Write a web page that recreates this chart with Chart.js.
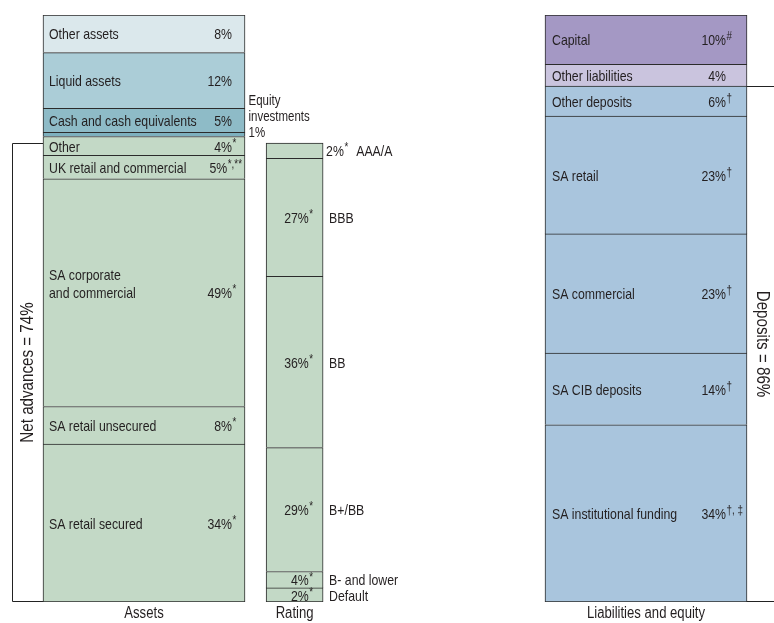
<!DOCTYPE html>
<html>
<head>
<meta charset="utf-8">
<script src="https://cdn.jsdelivr.net/npm/chart.js@4.4.1/dist/chart.umd.min.js"></script>
<style>
  html, body { margin: 0; padding: 0; background: #ffffff; }
  #wrap { width: 774px; height: 623px; position: relative; }
</style>
</head>
<body>
<div id="wrap"><canvas id="chart" width="774" height="623"></canvas></div>
<script>
// ---------------- DATA ----------------
const columns = ['Assets', 'Rating', 'Liabilities and equity'];

// Assets column, top to bottom
const assetNames = ['Other assets', 'Liquid assets', 'Cash and cash equivalents', 'Equity\ninvestments',
  'Other', 'UK retail and commercial', 'SA corporate\nand commercial', 'SA retail unsecured', 'SA retail secured'];
const assetPercents = ['8%', '12%', '5%', '1%', '4%', '5%', '49%', '8%', '34%'];
const assetNotes = ['', '', '', '', '*', '*,**', '*', '*', '*'];
// drawn segment heights, % of the column height
const assetShares = [6.4, 9.5, 4.1, 0.7, 3.2, 4.0, 38.8, 6.4, 26.9];

// Rating column (of net advances), top to bottom
const ratingNames = ['AAA/A', 'BBB', 'BB', 'B+/BB', 'B- and lower', 'Default'];
const ratingPercents = ['2%', '27%', '36%', '29%', '4%', '2%'];
const ratingNotes = ['*', '*', '*', '*', '*', '*'];
const ratingShares = [2.6, 20.1, 29.2, 21.1, 2.8, 2.4];

// Liabilities and equity column, top to bottom
const liabNames = ['Capital', 'Other liabilities', 'Other deposits', 'SA retail', 'SA commercial',
  'SA CIB deposits', 'SA institutional funding'];
const liabPercents = ['10%', '4%', '6%', '23%', '23%', '14%', '34%'];
const liabNotes = ['#', '', '\u2020', '\u2020', '\u2020', '\u2020', '\u2020, \u2021'];
const liabShares = [8.4, 3.7, 5.1, 20.1, 20.3, 12.2, 30.2];

const bracketLabels = ['Net advances = 74%', 'Deposits = 86%'];

// ---------------- STYLE / LAYOUT ----------------
const FAMILY = "'Liberation Sans', Arial, sans-serif";
const NARROW = 0.82;               // horizontal squeeze to mimic a condensed face
const TEXT = '#231f20';
const LINE = '#2b2b2b';
const LBL = 15, SUP = 12;
const assetColors = ['#dbe8ec', '#abcdd7', '#8ebbc7', '#7db0be', '#c3d9c6', '#c3d9c6', '#c3d9c6', '#c3d9c6', '#c3d9c6'];
const ratingColors = ['#c3d9c6', '#c3d9c6', '#c3d9c6', '#c3d9c6', '#c3d9c6', '#c3d9c6'];
const liabColors = ['#a498c4', '#cac4de', '#a9c5dd', '#a9c5dd', '#a9c5dd', '#a9c5dd', '#a9c5dd'];
const colPos = [0, 3, 10];          // column centres on the x scale
const colWidth = [202, 57, 202];    // bar thickness in px

function tw(ctx, text, size) {
  ctx.font = size + 'px ' + FAMILY;
  return ctx.measureText(text).width * NARROW;
}
function txt(ctx, text, x, y, size, align, rot) {
  ctx.save();
  ctx.translate(x, y);
  if (rot) ctx.rotate(rot);
  ctx.scale(NARROW, 1);
  ctx.font = size + 'px ' + FAMILY;
  ctx.textAlign = align || 'left';
  ctx.textBaseline = 'middle';
  ctx.fillStyle = TEXT;
  ctx.fillText(text, 0, 0);
  ctx.restore();
}

function makeSets(col, kind, names, pcts, notes, shares, colors) {
  const sets = [];
  for (let i = shares.length - 1; i >= 0; i--) {
    sets.push({
      label: names[i].replace('\n', ' '),
      data: [{ x: colPos[col], y: shares[i] }],
      backgroundColor: colors[i],
      borderColor: LINE,
      borderWidth: 1,
      borderSkipped: i === shares.length - 1 ? false : 'start',
      barThickness: colWidth[col],
      grouped: false,
      seg: { kind, i, name: names[i], pct: pcts[i], note: notes[i] }
    });
  }
  return sets;
}

const datasets = [].concat(
  makeSets(0, 'asset', assetNames, assetPercents, assetNotes, assetShares, assetColors),
  makeSets(1, 'rating', ratingNames, ratingPercents, ratingNotes, ratingShares, ratingColors),
  makeSets(2, 'liab', liabNames, liabPercents, liabNotes, liabShares, liabColors)
);

function drawPct(ctx, pct, note, endX, y) {
  txt(ctx, pct, endX, y, LBL, 'right');
  if (note) txt(ctx, note, endX + 0.5, y - 4, SUP, 'left');
}

const labelPlugin = {
  id: 'segLabels',
  afterDatasetsDraw(chart) {
    const ctx = chart.ctx;
    const yS = chart.scales.y, xS = chart.scales.x;
    ctx.save();
    const boxes = {};
    chart.data.datasets.forEach((ds, di) => {
      const el = chart.getDatasetMeta(di).data[0];
      const p = el.getProps(['x', 'y', 'base', 'width'], true);
      const left = p.x - p.width / 2, right = p.x + p.width / 2;
      const top = Math.min(p.y, p.base), bot = Math.max(p.y, p.base);
      const cy = (top + bot) / 2 + 1.5;
      const m = ds.seg;
      boxes[m.kind] = { left, right };
      if (m.kind === 'asset' || m.kind === 'liab') {
        const lines = m.name.split('\n');
        if (bot - top < 8) {
          // thin strip: label sits outside, to the right
          const all = lines.concat([m.pct]);
          all.forEach((t, k) => txt(ctx, t, right + 3.5, cy - 3 - (all.length - 1 - k) * 16, 14, 'left'));
          return;
        }
        const nx = left + (m.kind === 'asset' ? 6 : 7);
        lines.forEach((t, k) => txt(ctx, t, nx, cy - (lines.length - 1 - k) * 18, LBL, 'left'));
        const sw = m.note ? tw(ctx, m.note, SUP) + 0.5 : 0;
        let end = right - (m.kind === 'asset' ? 13 : 21);
        if (end + sw > right - 3) end = right - 3 - sw;
        drawPct(ctx, m.pct, m.note, end, cy);
      } else {
        const sw = m.note ? tw(ctx, m.note, SUP) + 0.5 : 0;
        if (m.i === 0) {
          // top rating band is labelled outside the bar
          const sx = right + 3;
          const w = tw(ctx, m.pct, LBL);
          txt(ctx, m.pct, sx, cy, LBL, 'left');
          txt(ctx, m.note, sx + w + 0.5, cy - 4, SUP, 'left');
          txt(ctx, m.name, sx + w + sw + 8, cy, LBL, 'left');
        } else {
          drawPct(ctx, m.pct, m.note, right - 10 - sw, cy);
          txt(ctx, m.name, right + 6, cy, LBL, 'left');
        }
      }
    });

    // column titles under the bars
    columns.forEach((c, i) => txt(ctx, c, xS.getPixelForValue(colPos[i]), 614, 16, 'center'));

    // brackets
    const ratingTotal = ratingShares.reduce((a, b) => a + b, 0);
    const depositsTotal = liabShares.slice(2).reduce((a, b) => a + b, 0);
    const y0 = yS.getPixelForValue(0);
    ctx.strokeStyle = '#222';
    ctx.lineWidth = 1;
    const aL = boxes.asset.left, bx = aL - 31;
    const nTop = yS.getPixelForValue(ratingTotal);
    ctx.beginPath();
    ctx.moveTo(aL, Math.round(nTop) + 0.5);
    ctx.lineTo(Math.round(bx) + 0.5, Math.round(nTop) + 0.5);
    ctx.lineTo(Math.round(bx) + 0.5, Math.round(y0) - 0.5);
    ctx.lineTo(aL, Math.round(y0) - 0.5);
    ctx.stroke();
    const lR = boxes.liab.right;
    const dTop = yS.getPixelForValue(depositsTotal);
    ctx.beginPath();
    ctx.moveTo(lR, Math.round(dTop) + 0.5);
    ctx.lineTo(chart.width, Math.round(dTop) + 0.5);
    ctx.moveTo(lR, Math.round(y0) - 0.5);
    ctx.lineTo(chart.width, Math.round(y0) - 0.5);
    ctx.stroke();

    txt(ctx, bracketLabels[0], bx + 16, (nTop + y0) / 2, 18.5, 'center', -Math.PI / 2);
    txt(ctx, bracketLabels[1], lR + 15.5, (dTop + y0) / 2, 18.5, 'center', Math.PI / 2);
    ctx.restore();
  }
};

new Chart(document.getElementById('chart'), {
  type: 'bar',
  data: { datasets },
  options: {
    responsive: false,
    animation: false,
    devicePixelRatio: 1,
    layout: { padding: { top: 15, left: 0, right: 0, bottom: 21 } },
    plugins: { legend: { display: false }, tooltip: { enabled: false }, title: { display: false } },
    scales: {
      x: {
        type: 'linear',
        display: false,
        min: -2.8685,
        max: 12.5498,
        offset: false
      },
      y: {
        display: false,
        stacked: true,
        min: 0,
        max: 100
      }
    }
  },
  plugins: [labelPlugin]
});
</script>
</body>
</html>
